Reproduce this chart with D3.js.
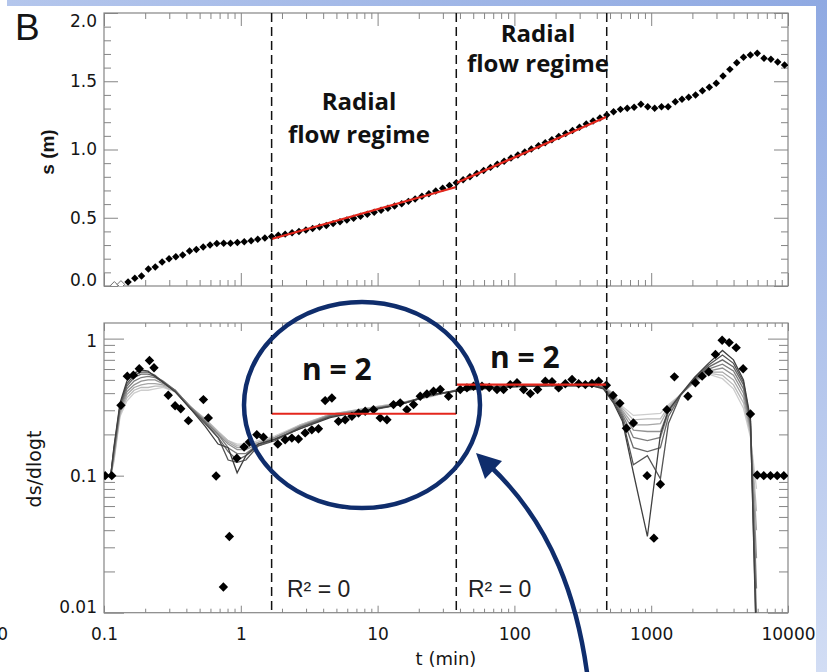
<!DOCTYPE html>
<html><head><meta charset="utf-8">
<script src="https://cdn.jsdelivr.net/npm/d3@7"></script>
<style>body{margin:0;background:#fff}svg{display:block}</style>
</head><body>
<svg id="c" width="827" height="672"></svg>
<script>
// ---------- DATA ----------
// Top panel: drawdown s (m) vs time t (min)
const tS = [0.119,0.133,0.150,0.168,0.188,0.211,0.237,0.266,0.299,0.335,0.376,0.422,0.473,0.531,0.596,0.668,0.750,0.841,0.944,
1.06,1.19,1.33,1.50,1.68,1.88,2.11,2.37,2.66,2.99,3.35,3.76,4.22,4.73,5.31,5.96,6.68,7.50,8.41,9.44,
10.6,11.9,13.3,15.0,16.8,18.8,21.1,23.7,26.6,29.9,33.5,37.6,42.2,47.3,53.1,59.6,66.8,75.0,84.1,94.4,
106,119,133,150,168,188,211,237,266,299,335,376,422,473,531,596,668,750,841,944,
1060,1190,1330,1500,1680,1880,2110,2370,2660,2990,3350,3760,4220,4730,5310,5960,6680,7500,8410,9440];
const sVals = [0.005,0.012,0.03,0.056,0.073,0.125,0.14,0.175,0.2,0.215,0.227,0.257,0.268,0.285,0.30,0.312,0.313,0.314,0.318,
0.325,0.332,0.342,0.352,0.362,0.371,0.380,0.390,0.400,0.410,0.421,0.432,0.444,0.457,0.470,0.483,0.497,0.511,0.525,0.540,
0.555,0.570,0.586,0.603,0.620,0.638,0.657,0.676,0.696,0.716,0.736,0.757,0.779,0.801,0.824,0.846,0.869,0.892,0.914,0.937,
0.959,0.981,1.004,1.027,1.050,1.072,1.095,1.118,1.140,1.163,1.186,1.208,1.231,1.253,1.277,1.294,1.302,1.309,1.331,1.314,
1.302,1.314,1.314,1.350,1.368,1.382,1.399,1.431,1.456,1.485,1.538,1.587,1.636,1.675,1.692,1.705,1.668,1.661,1.641,1.619];

// Bottom panel: derivative ds/dlogt (diamonds)
const tD = [0.102,0.114,0.133,0.148,0.164,0.181,0.215,0.232,0.295,0.331,0.364,0.414,0.533,0.579,0.660,0.746,0.825,0.935,1.057,1.156,1.310,1.463,
1.865,2.110,2.361,2.639,2.954,3.306,3.696,4.137,4.631,5.176,5.794,6.486,7.251,8.117,9.333,10.45,11.70,13.07,14.63,16.38,18.31,20.50,22.94,25.64,28.71,33.01,
40.20,45.00,50.29,57.94,65.5,74.60,83.39,93.33,104.5,116.8,130.7,147.8,168.3,188.4,210.6,235.7,263.9,294.9,330.1,368.9,412.9,470.1,
526.4,590.3,658.6,740.8,933.3,1046.6,1167.6,1303,1478,1856,2105,2357,2634,2949,3301,3714,4179,4701,5318,5953,6651,7447,8337,9318];
const dVals = [0.100,0.100,0.326,0.532,0.541,0.603,0.693,0.613,0.386,0.324,0.308,0.252,0.359,0.264,0.0995,0.0154,0.036,0.134,0.162,0.176,0.199,0.191,
0.170,0.183,0.188,0.185,0.205,0.216,0.220,0.353,0.369,0.249,0.256,0.271,0.286,0.295,0.303,0.264,0.256,0.330,0.340,0.303,0.330,0.380,0.395,0.413,0.425,0.380,
0.425,0.437,0.449,0.449,0.440,0.425,0.425,0.462,0.476,0.425,0.397,0.425,0.489,0.484,0.437,0.468,0.503,0.468,0.462,0.470,0.489,0.457,
0.385,0.337,0.222,0.242,0.100,0.035,0.0865,0.303,0.526,0.380,0.476,0.532,0.573,0.767,0.972,0.935,0.859,0.603,0.282,0.101,0.100,0.100,0.100,0.100];

// Bottom panel: smoothed derivatives (gray lines), dark -> light
const tG = [0.112,0.118,0.131,0.147,0.166,0.187,0.210,0.236,0.270,0.331,0.426,0.548,0.682,0.808,0.940,1.09,1.34,1.78,2.72,4.50,8.12,14.6,24.3,40.2,78.9,183,359,447,529,616,741,938,1168,1336,1636,2070,2620,3318,3994,4726,5318,5886];
const smooth1 = [0.10,0.16,0.34,0.49,0.56,0.59,0.58,0.53,0.48,0.41,0.31,0.23,0.17,0.16,0.105,0.14,0.17,0.185,0.22,0.265,0.30,0.33,0.39,0.42,0.44,0.455,0.455,0.43,0.34,0.25,0.105,0.036,0.20,0.30,0.39,0.52,0.66,0.82,0.70,0.50,0.26,0.005];
const smooth2 = [0.10,0.155,0.33,0.47,0.54,0.57,0.57,0.54,0.48,0.41,0.31,0.24,0.19,0.13,0.125,0.13,0.165,0.18,0.225,0.27,0.295,0.33,0.385,0.42,0.445,0.455,0.455,0.435,0.35,0.26,0.12,0.14,0.095,0.24,0.385,0.51,0.64,0.76,0.66,0.48,0.25,0.006];
const smooth3 = [0.10,0.15,0.32,0.45,0.52,0.55,0.55,0.53,0.49,0.42,0.31,0.245,0.19,0.15,0.13,0.14,0.165,0.185,0.22,0.27,0.30,0.33,0.385,0.42,0.445,0.455,0.455,0.44,0.36,0.27,0.16,0.15,0.16,0.27,0.385,0.50,0.62,0.70,0.62,0.46,0.24,0.009];
const smooth4 = [0.10,0.145,0.31,0.43,0.49,0.52,0.53,0.52,0.48,0.42,0.32,0.25,0.20,0.16,0.145,0.145,0.17,0.185,0.225,0.275,0.30,0.335,0.385,0.425,0.445,0.455,0.455,0.44,0.37,0.28,0.19,0.18,0.19,0.29,0.385,0.50,0.60,0.65,0.58,0.43,0.23,0.015];
const smooth5 = [0.10,0.14,0.30,0.41,0.46,0.49,0.50,0.50,0.47,0.42,0.32,0.25,0.20,0.17,0.155,0.155,0.17,0.19,0.23,0.275,0.305,0.335,0.38,0.425,0.45,0.455,0.455,0.445,0.38,0.29,0.215,0.21,0.21,0.30,0.39,0.49,0.58,0.61,0.54,0.40,0.22,0.025];
const smooth6 = [0.10,0.135,0.29,0.39,0.44,0.46,0.47,0.47,0.46,0.42,0.32,0.255,0.205,0.175,0.16,0.16,0.175,0.19,0.23,0.28,0.305,0.335,0.38,0.425,0.45,0.46,0.455,0.445,0.39,0.30,0.235,0.235,0.24,0.31,0.39,0.49,0.57,0.57,0.50,0.37,0.21,0.04];
const smooth7 = [0.10,0.13,0.28,0.37,0.42,0.44,0.44,0.45,0.45,0.41,0.32,0.26,0.21,0.18,0.165,0.165,0.175,0.19,0.235,0.28,0.31,0.34,0.38,0.43,0.45,0.46,0.455,0.45,0.395,0.31,0.255,0.26,0.26,0.32,0.39,0.48,0.56,0.54,0.46,0.34,0.20,0.055];
const smooth8 = [0.10,0.125,0.27,0.35,0.40,0.42,0.42,0.43,0.44,0.41,0.32,0.26,0.21,0.18,0.17,0.17,0.18,0.195,0.235,0.28,0.31,0.34,0.375,0.43,0.45,0.46,0.455,0.45,0.40,0.32,0.275,0.28,0.285,0.33,0.39,0.48,0.55,0.51,0.43,0.31,0.19,0.08];

// Fits
const fit1T = [1.68, 37.6], fit1S = [0.344, 0.725];
const fit2T = [37.6, 473],  fit2S = [0.755, 1.24];
const dfit1T = [1.68, 37.6], dfit1V = [0.283, 0.283];
const dfit2T = [37.6, 473],  dfit2V = [0.462, 0.462];
const regimeT = [1.68, 37.6, 473];

// Ticks
const xTicks = [0.1, 1, 10, 100, 1000, 10000];
const xTickLabels = ["0.1", "1", "10", "100", "1000", "10000"];
const sTicks = [0, 0.5, 1, 1.5, 2];
const sTickLabels = ["0.0", "0.5", "1.0", "1.5", "2.0"];
const dTicks = [0.01, 0.1, 1];
const dTickLabels = ["0.01", "0.1", "1"];

// ---------- DRAW ----------
const svg = d3.select("#c");
const axisCol = "#858585", txtCol = "#151515", navy = "#0f2d6c", red = "#e4261c";
const tickFont = "'DejaVu Sans', sans-serif";

const defs = svg.append("defs");
const gR = defs.append("linearGradient").attr("id","gr").attr("x1",0).attr("y1",0).attr("x2",0).attr("y2",1);
gR.append("stop").attr("offset","0").attr("stop-color","#8fa9e2");
gR.append("stop").attr("offset","1").attr("stop-color","#d2ddf4");
const gT = defs.append("linearGradient").attr("id","gt").attr("x1",0).attr("y1",0).attr("x2",1).attr("y2",0);
gT.append("stop").attr("offset","0").attr("stop-color","#b4c6ec");
gT.append("stop").attr("offset","1").attr("stop-color","#8fa9e2");
defs.append("clipPath").attr("id","clipB").append("rect").attr("x",104).attr("y",323).attr("width",684).attr("height",289.7);
defs.append("clipPath").attr("id","clipT").append("rect").attr("x",104).attr("y",13).attr("width",684).attr("height",273);

svg.append("rect").attr("width",827).attr("height",672).attr("fill","#fff");
svg.append("rect").attr("x",7).attr("y",0).attr("width",820).attr("height",6).attr("fill","url(#gt)");
svg.append("rect").attr("x",816).attr("y",0).attr("width",11).attr("height",672).attr("fill","url(#gr)");

const x = d3.scaleLog().domain([0.1, 10000]).range([104, 788]);
const yS = d3.scaleLinear().domain([0, 2]).range([286, 13]);
const yD = d3.scaleLog().domain([0.01, 1.3]).range([612.7, 323]);

const minorX = [];
[0.1,1,10,100,1000].forEach(d => { for (let m=2;m<=9;m++) minorX.push(d*m); });
const minorS = d3.range(1,20).map(i => i/10).filter(v => v % 0.5 !== 0);
const minorD = [];
[0.01,0.1].forEach(d => { for (let m=2;m<=9;m++) minorD.push(d*m); });

function styleAxis(g){
  g.select(".domain").remove();
  g.selectAll("line").attr("stroke", axisCol).attr("stroke-width", 1);
  g.selectAll("text").attr("fill", txtCol).style("font-family", tickFont).style("font-size","17px");
}
function addAxis(ax, tx, ty){
  const g = svg.append("g").attr("transform", `translate(${tx},${ty})`).call(ax);
  styleAxis(g);
  return g;
}
function frame(y0, y1){
  svg.append("rect").attr("x",104).attr("y",y0).attr("width",684).attr("height",y1-y0)
    .attr("fill","none").attr("stroke",axisCol).attr("stroke-width",1.2);
}

// --- top panel axes
const gSL = addAxis(d3.axisLeft(yS).tickValues(sTicks).tickFormat((d,i)=>sTickLabels[i]).tickSize(-14).tickPadding(7), 104, 0);
gSL.selectAll(".tick text").attr("transform", d => d===2 ? "translate(0,8)" : d===0 ? "translate(0,-6)" : null);
addAxis(d3.axisLeft(yS).tickValues(minorS).tickFormat("").tickSize(-7), 104, 0);
addAxis(d3.axisRight(yS).tickValues(sTicks).tickFormat("").tickSize(-14), 788, 0);
addAxis(d3.axisRight(yS).tickValues(minorS).tickFormat("").tickSize(-7), 788, 0);
addAxis(d3.axisBottom(x).tickValues(xTicks).tickFormat("").tickSize(-13), 0, 286);
addAxis(d3.axisBottom(x).tickValues(minorX).tickFormat("").tickSize(-6), 0, 286);
addAxis(d3.axisTop(x).tickValues(xTicks).tickFormat("").tickSize(-13), 0, 13);
addAxis(d3.axisTop(x).tickValues(minorX).tickFormat("").tickSize(-6), 0, 13);
frame(13, 286);

// --- bottom panel axes
const gDL = addAxis(d3.axisLeft(yD).tickValues(dTicks).tickFormat((d,i)=>dTickLabels[i]).tickSize(-20).tickPadding(7), 104, 0);
gDL.selectAll(".tick text").attr("transform", d => d===0.01 ? "translate(0,-6)" : d===1 ? "translate(0,2)" : null);
addAxis(d3.axisLeft(yD).tickValues(minorD).tickFormat("").tickSize(-11), 104, 0);
addAxis(d3.axisRight(yD).tickValues(dTicks).tickFormat("").tickSize(-20), 788, 0);
addAxis(d3.axisRight(yD).tickValues(minorD).tickFormat("").tickSize(-9), 788, 0);
addAxis(d3.axisBottom(x).tickValues(xTicks).tickFormat((d,i)=>xTickLabels[i]).tickSize(-7).tickPadding(15), 0, 612.7);
addAxis(d3.axisBottom(x).tickValues(minorX).tickFormat("").tickSize(-4), 0, 612.7);
addAxis(d3.axisTop(x).tickValues(xTicks).tickFormat("").tickSize(-8), 0, 323);
addAxis(d3.axisTop(x).tickValues(minorX).tickFormat("").tickSize(-4), 0, 323);
frame(323, 612.7);

// --- top panel data
const diamondT = d3.symbol().type(d3.symbolSquare).size(28);
const gTop = svg.append("g").attr("clip-path","url(#clipT)");
gTop.selectAll("path.pt").data(tS.map((t,i)=>({t, s:sVals[i]}))).join("path")
  .attr("class","pt")
  .attr("d", diamondT)
  .attr("transform", d => `translate(${x(d.t)},${yS(d.s)}) rotate(45)`)
  .attr("fill", d => d.s < 0.015 ? "#fff" : "#000")
  .attr("stroke", d => d.s < 0.015 ? "#555" : "none")
  .attr("stroke-width", 0.8);

const lineS = d3.line().x(d=>x(d[0])).y(d=>yS(d[1]));
[[fit1T,fit1S],[fit2T,fit2S]].forEach(([tt,ss]) => {
  svg.append("path").attr("d", lineS(tt.map((t,i)=>[t,ss[i]])))
    .attr("stroke", red).attr("stroke-width", 2.2).attr("fill","none");
});

// --- bottom panel data
const gBot = svg.append("g").attr("clip-path","url(#clipB)");
const smooths = [smooth8, smooth7, smooth6, smooth5, smooth4, smooth3, smooth2, smooth1];
const grayCols = ["#cdcdcd","#bababa","#a6a6a6","#929292","#7e7e7e","#696969","#555555","#404040"];
const lineD = d3.line().x(d=>x(d[0])).y(d=>yD(d[1]));
smooths.forEach((arr, j) => {
  gBot.append("path").attr("d", lineD(tG.map((t,i)=>[t, arr[i]])))
    .attr("fill","none").attr("stroke", grayCols[j]).attr("stroke-width", 1.3)
    .attr("stroke-linejoin","miter");
});
const diamondB = d3.symbol().type(d3.symbolSquare).size(44);
gBot.selectAll("path.dp").data(tD.map((t,i)=>({t, v:dVals[i]}))).join("path")
  .attr("class","dp").attr("d", diamondB)
  .attr("transform", d => `translate(${x(d.t)},${yD(d.v)}) rotate(45)`)
  .attr("fill","#000");
[[dfit1T,dfit1V],[dfit2T,dfit2V]].forEach(([tt,vv]) => {
  svg.append("path").attr("d", lineD(tt.map((t,i)=>[t,vv[i]])))
    .attr("stroke", red).attr("stroke-width", 2.2).attr("fill","none");
});

// --- regime dashed lines
regimeT.forEach(t => {
  svg.append("line").attr("x1", x(t)).attr("x2", x(t)).attr("y1", 13).attr("y2", 612.7)
    .attr("stroke","#111").attr("stroke-width",1.5).attr("stroke-dasharray","9,5");
});

// --- texts
const T = (tx, ty, str, opts={}) => svg.append("text").attr("x",tx).attr("y",ty).text(str)
  .attr("fill", opts.fill || txtCol)
  .attr("text-anchor", opts.anchor || "start")
  .style("font-family", opts.family || "'Liberation Sans', Arial, sans-serif")
  .style("font-size", (opts.size||16)+"px")
  .style("font-weight", opts.weight || "normal");

T(15, 40, "B", {size:37});
T(8, 640, "0", {size:17, anchor:"end", family:tickFont});
T(446, 665, "t  (min)", {size:18, anchor:"middle", family:tickFont});
svg.append("text").attr("transform","translate(54,152) rotate(-90)").attr("text-anchor","middle")
  .text("s (m)").attr("fill",txtCol).style("font-family","'Liberation Sans', Arial, sans-serif")
  .style("font-size","19px").style("font-weight","bold");
svg.append("text").attr("transform","translate(41,469) rotate(-90)").attr("text-anchor","middle")
  .text("ds/dlogt").attr("fill",txtCol).style("font-family",tickFont).style("font-size","19px");

const bold = {size:24, anchor:"middle", weight:"bold", family:"'Open Sans', sans-serif", fill:"#111"};
T(359, 110, "Radial", bold);
T(359, 143, "flow regime", bold);
T(538, 42, "Radial", bold);
T(538, 72, "flow regime", bold);
const nOpt = {size:30, weight:"bold", family:"'Open Sans', sans-serif", fill:"#111"};
T(302, 380, "n = 2", nOpt);
T(490, 368, "n = 2", nOpt);
T(287, 597, "R² = 0", {size:23, fill:"#222"});
T(468, 597, "R² = 0", {size:23, fill:"#222"});

// --- annotation ellipse and arrow
svg.append("ellipse").attr("cx",362).attr("cy",405).attr("rx",118).attr("ry",103)
  .attr("fill","none").attr("stroke",navy).attr("stroke-width",4.5);
svg.append("path").attr("d","M 588 680 C 578 600, 552 525, 491 467")
  .attr("fill","none").attr("stroke",navy).attr("stroke-width",4.5);
svg.append("path").attr("d","M 476 453 L 502 461 L 485 479 Z").attr("fill",navy);
</script>
</body></html>
